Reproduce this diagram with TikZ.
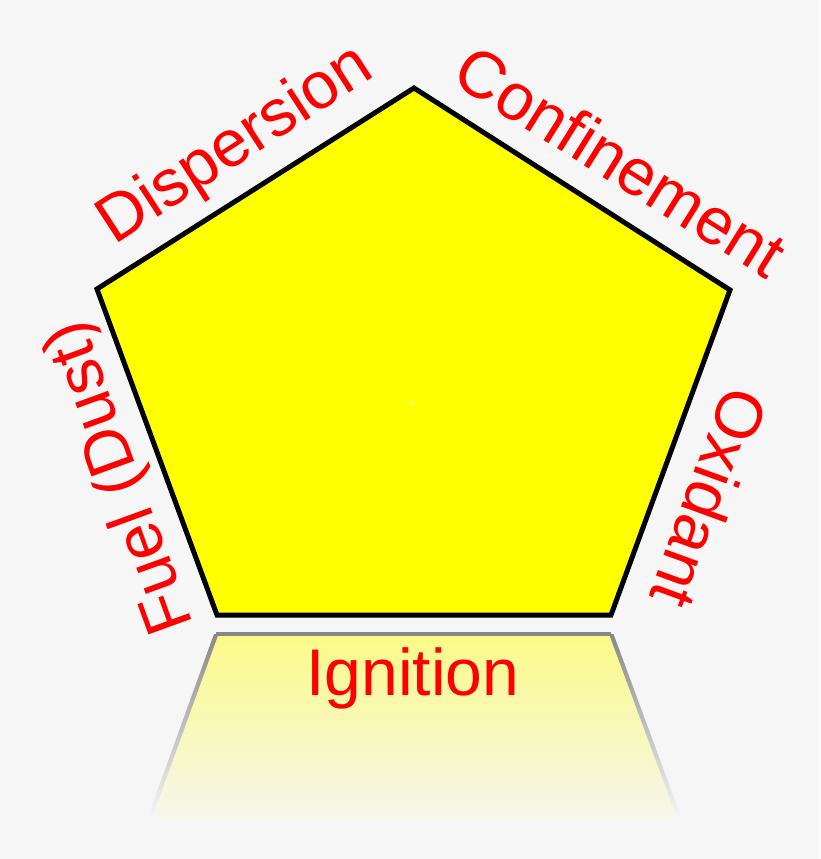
\documentclass[tikz,border=0pt]{standalone}
\usepackage{fontspec}
\setmainfont{Liberation Sans}
\usepackage{xcolor}
\usepackage{tikz}
\definecolor{bgcol}{RGB}{246,246,246}
\definecolor{labred}{RGB}{255,0,0}
\definecolor{pentfill}{RGB}{255,255,0}
\definecolor{reflgray}{RGB}{136,136,136}

\begin{document}
\begin{tikzpicture}[x=1pt,y=-1pt,
	lbl/.style={text=labred,font=\fontsize{66}{72}\selectfont,inner sep=0pt},
	reflside/.style={top color=reflgray,bottom color=bgcol}]
	\useasboundingbox[fill=bgcol] (0,0) rectangle (820,859);
	%
	\coordinate (top) at (414,88);
	\coordinate (ur) at (730,290);
	\coordinate (lr) at (611,615);
	\coordinate (ll) at (217,615);
	\coordinate (ul) at (97,289);
	%
	\coordinate (rl) at (216,634);
	\coordinate (rr) at (611,634);
	\coordinate (rbl) at (150,818);
	\coordinate (rbr) at (679,818);
	%
	\shade[top color=pentfill!45!bgcol,bottom color=pentfill!4!bgcol] (rl) -- (rr) -- (rbr) -- (rbl) -- cycle;
	\shade[reflside] (214,634) -- (218.5,634) -- (152,818) -- (147.5,818) -- cycle;
	\shade[reflside] (609,634) -- (613.5,634) -- (681.5,818) -- (677,818) -- cycle;
	\draw[reflgray,line width=4pt] (rl) -- (rr);
	%
	\draw[line width=5pt,fill=pentfill] (top) -- (ur) -- (lr) -- (ll) -- (ul) -- cycle;
	%
	\node[lbl,rotate=33] (disp) at (236,146) {Dispersion};
	\node[lbl,rotate=-32] (conf) at (621,161) {Confinement};
	\node[lbl,rotate=-110] (oxid) at (710,498) {Oxidant};
	\node[lbl,rotate=110] (fuel) at (122,477) {Fuel (Dust)};
	\node[lbl,anchor=base] (ign) at (413,695) {Ignition};
	\node[text=white,font=\fontsize{16}{16}\selectfont] (mark) at (412,407) {`{}`};
\end{tikzpicture}
\end{document}
